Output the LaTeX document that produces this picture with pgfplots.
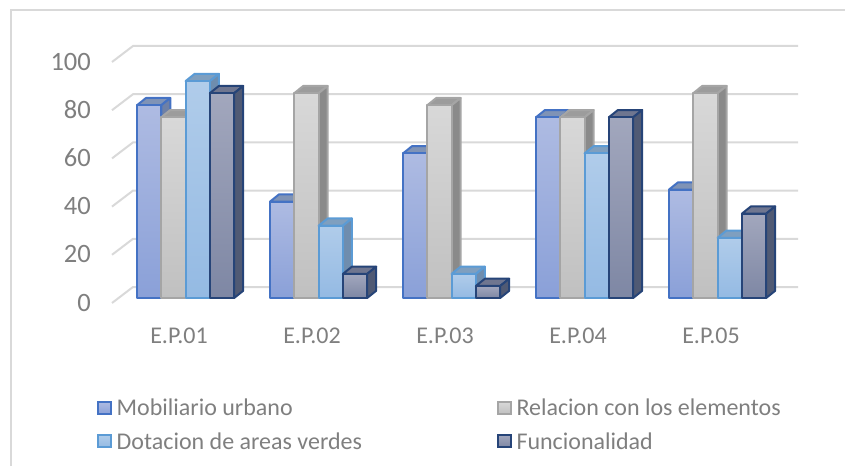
\documentclass[border=0pt]{standalone}
\usepackage{pgfplots}
\pgfplotsset{compat=1.18}
\usepackage{fontspec}
\setmainfont{Carlito}
\definecolor{txt}{HTML}{7F7F7F}
\definecolor{gridc}{HTML}{D9D9D9}
\definecolor{edge0}{HTML}{4472C4}\definecolor{ft0}{HTML}{AEBBE2}\definecolor{fb0}{HTML}{8AA0D8}\definecolor{tf0}{HTML}{7F93B6}\definecolor{sf0}{HTML}{6E80A6}
\definecolor{edge1}{HTML}{A5A5A5}\definecolor{ft1}{HTML}{D8D8D8}\definecolor{fb1}{HTML}{C0C0C0}\definecolor{tf1}{HTML}{9C9C9C}\definecolor{sf1}{HTML}{8A8A8A}
\definecolor{edge2}{HTML}{5B9BD5}\definecolor{ft2}{HTML}{B0CCEA}\definecolor{fb2}{HTML}{94BAE3}\definecolor{tf2}{HTML}{7F9FBF}\definecolor{sf2}{HTML}{6F8DAE}
\definecolor{edge3}{HTML}{264478}\definecolor{ft3}{HTML}{A2A7BD}\definecolor{fb3}{HTML}{7E87A4}\definecolor{tf3}{HTML}{6F7690}\definecolor{sf3}{HTML}{505A74}
% one 3-D column: group, series, value
\newcommand\OneBar[3]{%
  \pgfmathsetmacro\xa{#1+(#2*24.3-42)/133}%
  \pgfmathsetmacro\xb{\xa+24.3/133}%
  \pgfmathsetmacro\xc{\xb+9/133}%
  \pgfmathsetmacro\xd{\xa+9/133}%
  \pgfmathsetmacro\yt{#3+3}%
  \addplot[forget plot,yshift=3pt,line width=2pt,line join=round,draw=edge#2,fill=tf#2] coordinates {(\xa,#3)(\xd,\yt)(\xc,\yt)(\xb,#3)} -- cycle;
  \addplot[forget plot,yshift=3pt,line width=2pt,line join=round,draw=edge#2,fill=sf#2] coordinates {(\xb,0)(\xc,3)(\xc,\yt)(\xb,#3)} -- cycle;
  \addplot[forget plot,yshift=3pt,line width=2pt,line join=round,draw=edge#2,top color=ft#2,bottom color=fb#2] coordinates {(\xa,0)(\xa,#3)(\xb,#3)(\xb,0)} -- cycle;
}
\newcommand\Group[5]{\OneBar{#1}{0}{#2}\OneBar{#1}{1}{#3}\OneBar{#1}{2}{#4}\OneBar{#1}{3}{#5}}
\newcommand\Swatch[1]{\addlegendimage{legend image code/.code={\draw[line width=2pt,draw=edge#1,top color=ft#1,bottom color=fb#1] (0pt,-6pt) rectangle (12.5pt,6.5pt);}}}
\begin{document}
\begin{tikzpicture}[x=1pt,y=1pt]
\path[use as bounding box] (0,0) rectangle (845,466);
\draw[gridc,line width=2pt] (11,0) -- (11,456) -- (845,456);
\begin{axis}[
  at={(112pt,165pt)},anchor=south west,
  scale only axis,width=686pt,height=241pt,
  xmin=-0.50376,xmax=4.65414,ymin=0,ymax=100,
  clip=false,
  axis line style={draw=none},
  major tick length=0pt,
  xtick={0,1,2,3,4},
  xticklabels={E.P.01,E.P.02,E.P.03,E.P.04,E.P.05},
  ytick={0,20,40,60,80,100},
  /pgf/number format/assume math mode=true,
  yticklabel style={font=\fontsize{26.5}{26.5}\selectfont,text=txt,anchor=east,inner sep=0pt,xshift=-21pt,yshift=-1.5pt},
  xticklabel style={font=\fontsize{24}{24}\selectfont,text=txt,anchor=center,inner sep=0pt,yshift=-35pt},
  legend cell align=left,
  legend columns=2,
  legend style={at={(-15pt,-96pt)},anchor=north west,draw=none,fill=none,
    font=\fontsize{24}{24}\selectfont,text=txt,inner sep=0pt,row sep=11pt,
    /tikz/every odd column/.append style={column sep=3pt},
    /tikz/every even column/.append style={column sep=133pt}},
  legend image post style={},
]
\pgfplotsinvokeforeach{0,20,40,60,80,100}{
  \pgfmathsetmacro\yb{#1+16/2.41}
  \addplot[forget plot,gridc,line width=2pt,yshift=-2pt] coordinates {(-0.50376,#1)(-0.34586,\yb)(4.65414,\yb)};
}
\Group{0}{80}{75}{90}{85}
\Group{1}{40}{85}{30}{10}
\Group{2}{60}{80}{10}{5}
\Group{3}{75}{75}{60}{75}
\Group{4}{45}{85}{25}{35}
\Swatch{0}\Swatch{1}\Swatch{2}\Swatch{3}
\legend{Mobiliario urbano,Relacion con los elementos,Dotacion de areas verdes,Funcionalidad}
\end{axis}
\end{tikzpicture}
\end{document}
